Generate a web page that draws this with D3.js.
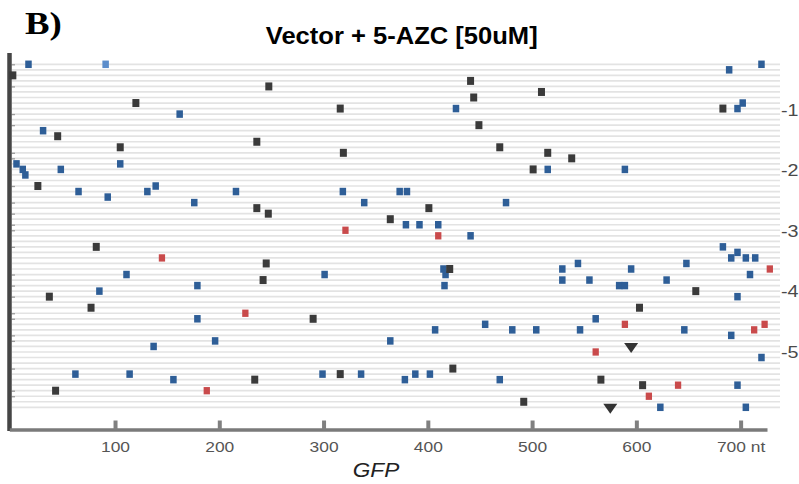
<!DOCTYPE html>
<html>
<head>
<meta charset="utf-8">
<script src="https://cdn.jsdelivr.net/npm/d3@7"></script>
<style>
  body { margin: 0; background: #fff; }
  text { font-family: "Liberation Sans", Arial, Helvetica, sans-serif; }
</style>
</head>
<body>
<svg width="799" height="484"></svg>
<script>
// mutations per read: [position (nt), read row]
var blueMuts = [
    [17, 0], [720, 0], [689, 1], [702, 7], [427, 8], [697, 8], [162, 9], [31, 12],
    [5.5, 18], [105, 18], [11.5, 19], [48, 19], [515, 19], [589, 19], [14, 20], [139, 22],
    [65, 23], [131, 23], [216, 23], [318.5, 23], [373, 23], [380, 23], [93, 24],
    [176, 25], [339, 25], [475, 25], [379, 29], [392, 29], [410, 29], [441, 31],
    [683, 33], [697, 34], [691, 35], [705, 35], [714, 35], [544, 36], [648, 36],
    [415, 37], [529, 37], [595, 37], [111, 38], [301, 38], [417, 38], [709, 38],
    [529, 39], [555, 39], [629, 39], [179, 40], [416, 40], [583.5, 40], [589, 40],
    [85, 41], [697, 42], [179, 46], [561, 46], [455, 47], [407, 48], [481, 48],
    [504, 48], [546, 48], [646, 48], [691, 49], [196, 50], [364, 50], [137, 51],
    [720, 53], [62, 56], [114, 56], [299, 56], [336, 56], [388, 56], [402, 56],
    [156, 57], [378, 57], [469, 57], [697, 58], [623, 62], [705, 62]
];
var lightBlueMuts = [[91, 0]];
var blackMuts = [
    [2, 2], [441, 3], [247.5, 4], [509, 5], [444, 6], [120, 7], [316, 8], [683, 8],
    [449, 11], [45, 13], [236, 14], [105, 15], [469, 15], [319, 16], [515, 16],
    [538, 17], [501, 19], [26, 22], [401, 26], [236, 26], [247, 27], [364, 28],
    [82, 33], [245, 36], [421, 37], [242, 39], [657, 41], [37, 42], [77, 44],
    [603, 44], [290, 46], [424, 55], [316, 56], [234, 57], [566, 57], [606, 58],
    [43, 59], [492, 61]
];
var redMuts = [
    [321, 30], [410, 31], [145, 35], [728, 37], [225, 45], [589, 47], [723, 47],
    [713, 48], [561, 52], [640, 58], [188, 59], [612, 60]
];
var deletions = [[595, 51], [575, 62]];

var xTicks = [100, 200, 300, 400, 500, 600, 700];
var rowLabels = [-1, -2, -3, -4, -5];
var leftTicks = [0, 2, 4, 9, 11, 16, 17, 22, 25, 27, 29, 30, 33, 38, 40, 42, 45, 46, 49, 50, 55, 59, 60];
var nRows = 63;

var svg = d3.select("svg");
var stretch = 1.16; // the figure is a bit wider than tall text would be

var x = d3.scaleLinear().domain([-1.4, 725.3]).range([9.3, 767]);
var y = d3.scaleLinear().domain([0, 62]).range([64.3, 407.3]);
var yLab = d3.scaleLinear().domain([0, -5]).range([49.6, 351.7]);

// "B)" panel letter
svg.append("text")
    .attr("transform", "translate(25,34.3) scale(1.15,1)")
    .style("font-family", "'Liberation Serif', 'Times New Roman', serif")
    .style("font-weight", "bold")
    .style("font-size", "32px")
    .text("B)");

svg.append("text")
    .attr("transform", "translate(401.7,44) scale(1.065,1)")
    .attr("text-anchor", "middle")
    .style("font-weight", "bold")
    .style("font-size", "24px")
    .text("Vector + 5-AZC [50uM]");

// one light line per read
svg.append("g").selectAll("line")
    .data(d3.range(nRows))
    .enter().append("line")
    .attr("x1", 12)
    .attr("x2", 780)
    .attr("y1", function(d) { return y(d); })
    .attr("y2", function(d) { return y(d); })
    .attr("stroke", "#e3e3e3")
    .attr("stroke-width", 1.7);

// left axis
var leftAxis = svg.append("g")
    .attr("transform", "translate(11.5,0)")
    .call(d3.axisLeft(y).tickValues(leftTicks).tickFormat("").tickSizeInner(-3.5).tickSizeOuter(0));
leftAxis.select(".domain").remove();
leftAxis.selectAll("line").attr("stroke", "#9a9a9a").attr("stroke-width", 1.3);

svg.append("line")
    .attr("x1", 9.5).attr("x2", 9.5)
    .attr("y1", 53).attr("y2", 431)
    .attr("stroke", "#454545")
    .attr("stroke-width", 4.5);

// bottom axis
var bottomAxis = svg.append("g")
    .attr("transform", "translate(0,429.5)")
    .call(d3.axisBottom(x).tickValues(xTicks)
        .tickFormat(function(d) { return d === 700 ? "700 nt" : d; })
        .tickSizeInner(-9).tickSizeOuter(0));
bottomAxis.select(".domain").attr("stroke", "#7a7a7a").attr("stroke-width", 3.6);
bottomAxis.selectAll(".tick line").attr("stroke", "#808080").attr("stroke-width", 4);
bottomAxis.selectAll(".tick text")
    .attr("y", 0).attr("dy", 0)
    .attr("transform", "translate(0,22.8) scale(" + stretch + ",1)")
    .attr("fill", "#555")
    .style("font-size", "15px")
    .style("font-family", "'Liberation Sans', Arial, sans-serif");

svg.append("text")
    .attr("transform", "translate(376,476.7) scale(" + stretch + ",1)")
    .attr("text-anchor", "middle")
    .style("font-style", "italic")
    .style("font-size", "19.5px")
    .attr("fill", "#222")
    .text("GFP");

// right side group labels
svg.append("g").selectAll("text")
    .data(rowLabels)
    .enter().append("text")
    .attr("transform", function(d) {
        return "translate(781," + (yLab(d) + 6) + ") scale(" + stretch + ",1)";
    })
    .attr("fill", "#4a4a4a")
    .style("font-size", "17px")
    .text(function(d) { return d; });

function drawMuts(data, color, w, h) {
    svg.append("g").selectAll("rect")
        .data(data)
        .enter().append("rect")
        .attr("x", function(d) { return x(d[0]) - w / 2; })
        .attr("y", function(d) { return y(d[1]) - h / 2; })
        .attr("width", w)
        .attr("height", h)
        .attr("fill", color);
}

drawMuts(blueMuts, "#2e5e97", 6.5, 7.5);
drawMuts(lightBlueMuts, "#5b8dcb", 6.5, 7.5);
drawMuts(blackMuts, "#3a3a3a", 7, 8);
drawMuts(redMuts, "#c94a4b", 6.3, 7.3);

// deletions
svg.append("g").selectAll("path")
    .data(deletions)
    .enter().append("path")
    .attr("d", function(d) {
        var cx = x(d[0]), cy = y(d[1]);
        return "M" + (cx - 7) + "," + (cy - 3.5) + "L" + (cx + 7) + "," + (cy - 3.5) +
            "L" + cx + "," + (cy + 6.5) + "Z";
    })
    .attr("fill", "#333");
</script>
</body>
</html>
